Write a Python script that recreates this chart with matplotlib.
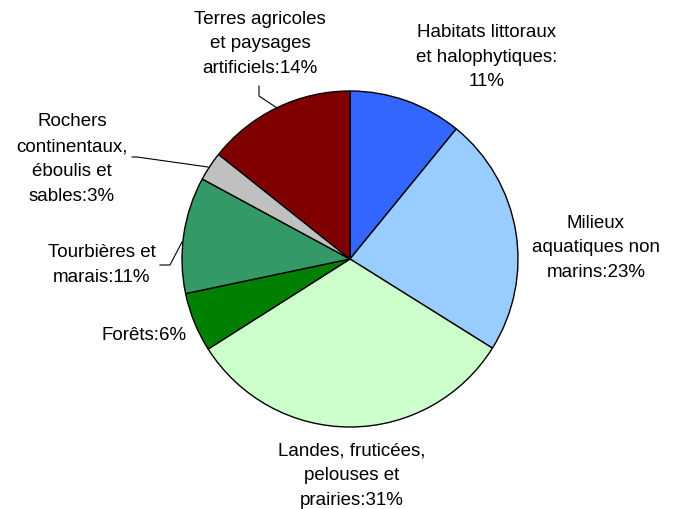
import matplotlib.pyplot as plt

# parts du total, dans l'ordre horaire depuis le haut
categories = ['Habitats littoraux\net halophytiques:\n11%',
              'Milieux\naquatiques non\nmarins:23%',
              'Landes, fruticées,\npelouses et\nprairies:31%',
              'Forêts:6%',
              'Tourbières et\nmarais:11%',
              'Rochers\ncontinentaux,\néboulis et\nsables:3%',
              'Terres agricoles\net paysages\nartificiels:14%']
valeurs = [10.9, 23.0, 32.1, 5.7, 11.2, 2.8, 14.3]
couleurs = ['#3366FF', '#99CCFF', '#CCFFCC', '#008000', '#339966', '#C0C0C0', '#800000']

W, H = 676, 510
fig = plt.figure(figsize=(W/100, H/100), dpi=100)
ax = fig.add_axes([0, 0, 1, 1])

ax.pie(valeurs, colors=couleurs, startangle=90, counterclock=False,
       center=(350, H - 260), radius=168,
       wedgeprops=dict(edgecolor='black', linewidth=1))
ax.set_xlim(0, W)
ax.set_ylim(0, H)
ax.set_aspect('equal')
ax.axis('off')

# positions des etiquettes (pixels, origine en haut a gauche)
pos = [(487, 57), (596, 248), (352, 476), (144, 336), (102, 265), (72, 159), (260, 44)]
for txt, (x, y) in zip(categories, pos):
    ax.text(x, H - y, txt, ha='center', va='center', fontsize=13.5,
            family='Liberation Sans', linespacing=1.6)

# traits de rappel
traits = [[(259, 87), (259, 97), (277, 109)],
          [(160, 266), (170, 266), (182, 243)],
          [(132, 158), (137, 158), (208, 168)]]
for t in traits:
    ax.plot([p[0] for p in t], [H - p[1] for p in t], color='black', linewidth=0.8)

fig.savefig('out.png', dpi=100)
